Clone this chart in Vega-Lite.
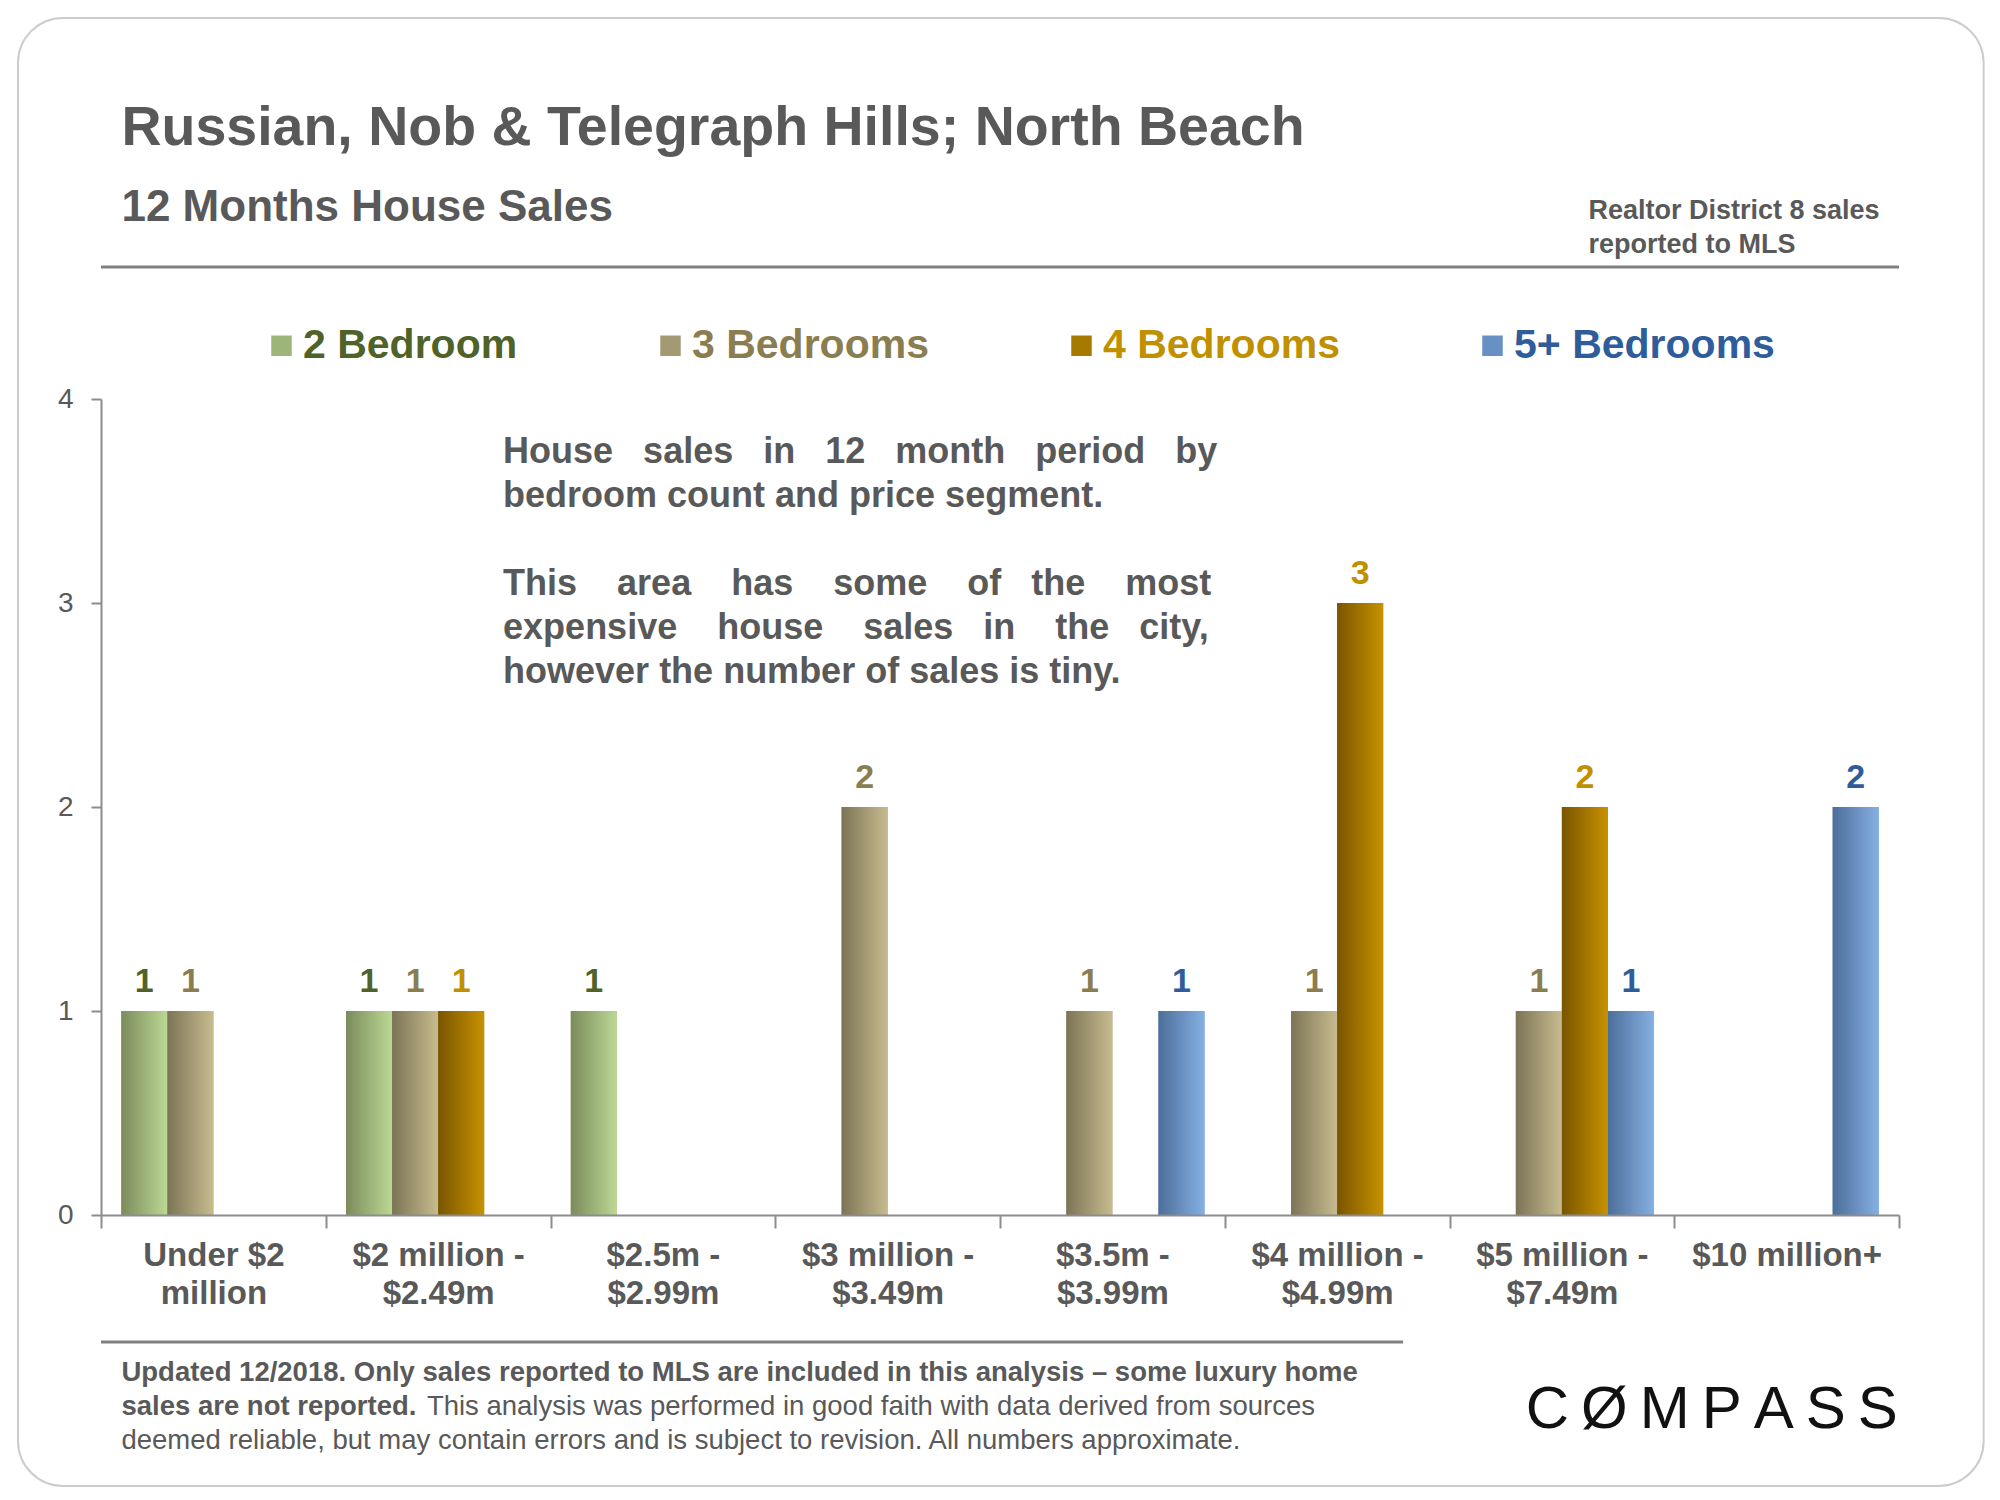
{
  "$schema": "https://vega.github.io/schema/vega-lite/v6.json",
  "width": 1798,
  "height": 816,
  "autosize": {"type": "none"},
  "padding": {"left": 101, "top": 399, "right": 101, "bottom": 285},
  "background": "white",
  "config": {"font": "Liberation Sans", "view": {"stroke": null}},
  "datasets": {
    "sales": [
      {"price": "Under $2 million", "bedrooms": "2 Bedroom", "count": 1},
      {"price": "Under $2 million", "bedrooms": "3 Bedrooms", "count": 1},
      {"price": "$2 million - $2.49m", "bedrooms": "2 Bedroom", "count": 1},
      {"price": "$2 million - $2.49m", "bedrooms": "3 Bedrooms", "count": 1},
      {"price": "$2 million - $2.49m", "bedrooms": "4 Bedrooms", "count": 1},
      {"price": "$2.5m - $2.99m", "bedrooms": "2 Bedroom", "count": 1},
      {"price": "$3 million - $3.49m", "bedrooms": "3 Bedrooms", "count": 2},
      {"price": "$3.5m - $3.99m", "bedrooms": "3 Bedrooms", "count": 1},
      {"price": "$3.5m - $3.99m", "bedrooms": "5+ Bedrooms", "count": 1},
      {"price": "$4 million - $4.99m", "bedrooms": "3 Bedrooms", "count": 1},
      {"price": "$4 million - $4.99m", "bedrooms": "4 Bedrooms", "count": 3},
      {"price": "$5 million - $7.49m", "bedrooms": "3 Bedrooms", "count": 1},
      {"price": "$5 million - $7.49m", "bedrooms": "4 Bedrooms", "count": 2},
      {"price": "$5 million - $7.49m", "bedrooms": "5+ Bedrooms", "count": 1},
      {"price": "$10 million+", "bedrooms": "5+ Bedrooms", "count": 2}
    ]
  },
  "layer": [
    {
      "data": {"values": [{}]},
      "mark": {"type": "rect", "filled": false, "stroke": "#cccccc", "strokeWidth": 2, "cornerRadius": 45, "xOffset": -83, "x2Offset": 197},
      "encoding": {
        "x": {"datum": "Under $2 million", "type": "nominal", "bandPosition": 0, "scale": {"domain": ["Under $2 million", "$2 million - $2.49m", "$2.5m - $2.99m", "$3 million - $3.49m", "$3.5m - $3.99m", "$4 million - $4.99m", "$5 million - $7.49m", "$10 million+"], "paddingInner": 0, "paddingOuter": 0}},
        "x2": {"datum": "$10 million+"},
        "y": {"datum": 5.868, "type": "quantitative", "scale": {"domain": [0, 4], "nice": false}},
        "y2": {"datum": -1.328}
      }
    },
    {
      "data": {"values": [{}]},
      "mark": {"type": "rule", "color": "#808080", "strokeWidth": 3},
      "encoding": {
        "y": {"datum": 4.647, "type": "quantitative", "scale": {"domain": [0, 4], "nice": false}}
      }
    },
    {
      "data": {"values": [{}]},
      "mark": {"type": "rule", "color": "#808080", "strokeWidth": 3, "x2Offset": 66},
      "encoding": {
        "x": {"datum": "Under $2 million", "type": "nominal", "bandPosition": 0},
        "x2": {"datum": "$4 million - $4.99m"},
        "y": {"datum": -0.6225, "type": "quantitative", "scale": {"domain": [0, 4], "nice": false}}
      }
    },
    {
      "data": {"values": [{}]},
      "mark": {"type": "text", "text": "Russian, Nob & Telegraph Hills; North Beach", "align": "left", "baseline": "alphabetic", "fontSize": 55.5, "fontWeight": "bold", "color": "#595959"},
      "encoding": {
        "x": {"datum": "Under $2 million", "type": "nominal", "bandPosition": 0.091},
        "y": {"datum": 5.245, "type": "quantitative", "scale": {"domain": [0, 4], "nice": false}}
      }
    },
    {
      "data": {"values": [{}]},
      "mark": {"type": "text", "text": "12 Months House Sales", "align": "left", "baseline": "alphabetic", "fontSize": 44, "fontWeight": "bold", "color": "#595959"},
      "encoding": {
        "x": {"datum": "Under $2 million", "type": "nominal", "bandPosition": 0.091},
        "y": {"datum": 4.873, "type": "quantitative", "scale": {"domain": [0, 4], "nice": false}}
      }
    },
    {
      "data": {"values": [{}]},
      "mark": {"type": "text", "text": ["Realtor District 8 sales", "reported to MLS"], "align": "left", "baseline": "alphabetic", "fontSize": 27, "lineHeight": 34, "fontWeight": "bold", "color": "#595959"},
      "encoding": {
        "x": {"datum": "$5 million - $7.49m", "type": "nominal", "bandPosition": 0.618},
        "y": {"datum": 4.882, "type": "quantitative", "scale": {"domain": [0, 4], "nice": false}}
      }
    },
    {
      "data": {"values": [{}]},
      "mark": {"type": "text", "text": ["House\u00a0\u00a0\u00a0sales\u00a0\u00a0\u00a0in\u00a0\u00a0\u00a012\u00a0\u00a0\u00a0month\u00a0\u00a0\u00a0period\u00a0\u00a0\u00a0by", "bedroom count and price segment."], "align": "left", "baseline": "alphabetic", "fontSize": 36, "lineHeight": 44, "fontWeight": "bold", "color": "#595959"},
      "encoding": {
        "x": {"datum": "$2 million - $2.49m", "type": "nominal", "bandPosition": 0.789},
        "y": {"datum": 3.686, "type": "quantitative", "scale": {"domain": [0, 4], "nice": false}}
      }
    },
    {
      "data": {"values": [{}]},
      "mark": {"type": "text", "text": ["This\u00a0\u00a0\u00a0\u00a0area\u00a0\u00a0\u00a0\u00a0has\u00a0\u00a0\u00a0\u00a0some\u00a0\u00a0\u00a0\u00a0of\u00a0\u00a0\u00a0the\u00a0\u00a0\u00a0\u00a0most", "expensive\u00a0\u00a0\u00a0\u00a0house\u00a0\u00a0\u00a0\u00a0sales\u00a0\u00a0\u00a0in\u00a0\u00a0\u00a0\u00a0the\u00a0\u00a0\u00a0city,", "however the number of sales is tiny."], "align": "left", "baseline": "alphabetic", "fontSize": 36, "lineHeight": 44, "fontWeight": "bold", "color": "#595959"},
      "encoding": {
        "x": {"datum": "$2 million - $2.49m", "type": "nominal", "bandPosition": 0.789},
        "y": {"datum": 3.039, "type": "quantitative", "scale": {"domain": [0, 4], "nice": false}}
      }
    },
    {
      "data": {"values": [{}]},
      "mark": {"type": "text", "text": "Updated 12/2018. Only sales reported to MLS are included in this analysis \u2013 some luxury home", "align": "left", "baseline": "alphabetic", "fontSize": 27.5, "fontWeight": "bold", "color": "#595959"},
      "encoding": {
        "x": {"datum": "Under $2 million", "type": "nominal", "bandPosition": 0.091},
        "y": {"datum": -0.815, "type": "quantitative", "scale": {"domain": [0, 4], "nice": false}}
      }
    },
    {
      "data": {"values": [{}]},
      "mark": {"type": "text", "text": "sales are not reported.", "align": "left", "baseline": "alphabetic", "fontSize": 27.5, "fontWeight": "bold", "color": "#595959"},
      "encoding": {
        "x": {"datum": "Under $2 million", "type": "nominal", "bandPosition": 0.091},
        "y": {"datum": -0.978, "type": "quantitative", "scale": {"domain": [0, 4], "nice": false}}
      }
    },
    {
      "data": {"values": [{}]},
      "mark": {"type": "text", "text": "This analysis was performed in good faith with data derived from sources", "align": "left", "baseline": "alphabetic", "fontSize": 27.5, "color": "#595959"},
      "encoding": {
        "x": {"datum": "$2 million - $2.49m", "type": "nominal", "bandPosition": 0.45},
        "y": {"datum": -0.978, "type": "quantitative", "scale": {"domain": [0, 4], "nice": false}}
      }
    },
    {
      "data": {"values": [{}]},
      "mark": {"type": "text", "text": "deemed reliable, but may contain errors and is subject to revision. All numbers approximate.", "align": "left", "baseline": "alphabetic", "fontSize": 27.5, "color": "#595959"},
      "encoding": {
        "x": {"datum": "Under $2 million", "type": "nominal", "bandPosition": 0.091},
        "y": {"datum": -1.145, "type": "quantitative", "scale": {"domain": [0, 4], "nice": false}}
      }
    },
    {
      "data": {"values": [{}]},
      "mark": {"type": "text", "text": "C\u2009\u00d8\u2009M\u2009P\u2009A\u2009S\u2009S", "align": "right", "baseline": "middle", "fontSize": 60, "color": "#111111"},
      "encoding": {
        "x": {"datum": "$10 million+", "type": "nominal", "bandPosition": 0.995},
        "y": {"datum": -0.955, "type": "quantitative", "scale": {"domain": [0, 4], "nice": false}}
      }
    },
    {
      "data": {"name": "sales"},
      "mark": {"type": "bar"},
      "encoding": {
        "x": {
          "field": "price", "type": "nominal",
          "scale": {"domain": ["Under $2 million", "$2 million - $2.49m", "$2.5m - $2.99m", "$3 million - $3.49m", "$3.5m - $3.99m", "$4 million - $4.99m", "$5 million - $7.49m", "$10 million+"], "paddingInner": 0, "paddingOuter": 0},
          "axis": {
            "title": null, "labelAngle": 0, "labelAlign": "center", "labelLimit": 0, "labelFontSize": 33, "labelFontWeight": "bold", "labelColor": "#595959", "labelLineHeight": 38,
            "tickBand": "extent", "tickSize": 13, "tickColor": "#8c8c8c", "tickWidth": 2, "labelPadding": 27,
            "domainColor": "#8c8c8c", "domainWidth": 2,
            "labelExpr": "indexof(datum.label, ' - ') > 0 ? [split(datum.label, ' - ')[0] + ' -', split(datum.label, ' - ')[1]] : datum.label === 'Under $2 million' ? ['Under $2', 'million'] : datum.label"
          }
        },
        "xOffset": {"field": "bedrooms", "type": "nominal", "scale": {"domain": ["2 Bedroom", "3 Bedrooms", "4 Bedrooms", "5+ Bedrooms"], "paddingInner": 0, "paddingOuter": 0.44}},
        "y": {
          "field": "count", "type": "quantitative",
          "scale": {"domain": [0, 4], "nice": false},
          "axis": {"title": null, "values": [0, 1, 2, 3, 4], "format": "d", "grid": false, "labelFontSize": 28, "labelColor": "#595959", "labelPadding": 18, "tickSize": 10, "tickColor": "#8c8c8c", "tickWidth": 2, "domainColor": "#8c8c8c", "domainWidth": 2}
        },
        "fill": {
          "field": "bedrooms", "type": "nominal",
          "scale": {
            "domain": ["2 Bedroom", "3 Bedrooms", "4 Bedrooms", "5+ Bedrooms"],
            "range": ["#9db578", "#a39a74", "#a67a00", "#6990c4"]
          },
          "legend": {
            "title": null, "orient": "none", "legendX": 160, "legendY": -74, "direction": "horizontal",
            "symbolType": "square", "symbolSize": 420, "symbolStrokeWidth": 0, "symbolOpacity": 1,
            "labelFontSize": 41, "labelFontWeight": "bold", "labelOffset": 1, "columnPadding": 132, "labelLimit": 0,
            "labelColor": {"expr": "datum.value === '2 Bedroom' ? '#4f6228' : datum.value === '3 Bedrooms' ? '#8a7d4f' : datum.value === '4 Bedrooms' ? '#c09000' : '#2f5d9b'"}
          }
        }
      }
    },
    {
      "data": {"name": "sales"},
      "transform": [{"filter": "datum.bedrooms === '2 Bedroom'"}],
      "mark": {"type": "bar", "color": {"gradient": "linear", "x1": 0, "y1": 0, "x2": 1, "y2": 0, "stops": [{"offset": 0, "color": "#7b8b5c"}, {"offset": 1, "color": "#bcd894"}]}},
      "encoding": {
        "x": {"field": "price", "type": "nominal"},
        "xOffset": {"field": "bedrooms", "type": "nominal"},
        "y": {"field": "count", "type": "quantitative", "scale": {"domain": [0, 4], "nice": false}}
      }
    },
    {
      "data": {"name": "sales"},
      "transform": [{"filter": "datum.bedrooms === '3 Bedrooms'"}],
      "mark": {"type": "bar", "color": {"gradient": "linear", "x1": 0, "y1": 0, "x2": 1, "y2": 0, "stops": [{"offset": 0, "color": "#7c7455"}, {"offset": 1, "color": "#c7bb8f"}]}},
      "encoding": {
        "x": {"field": "price", "type": "nominal"},
        "xOffset": {"field": "bedrooms", "type": "nominal"},
        "y": {"field": "count", "type": "quantitative", "scale": {"domain": [0, 4], "nice": false}}
      }
    },
    {
      "data": {"name": "sales"},
      "transform": [{"filter": "datum.bedrooms === '4 Bedrooms'"}],
      "mark": {"type": "bar", "color": {"gradient": "linear", "x1": 0, "y1": 0, "x2": 1, "y2": 0, "stops": [{"offset": 0, "color": "#7a5500"}, {"offset": 1, "color": "#c79200"}]}},
      "encoding": {
        "x": {"field": "price", "type": "nominal"},
        "xOffset": {"field": "bedrooms", "type": "nominal"},
        "y": {"field": "count", "type": "quantitative", "scale": {"domain": [0, 4], "nice": false}}
      }
    },
    {
      "data": {"name": "sales"},
      "transform": [{"filter": "datum.bedrooms === '5+ Bedrooms'"}],
      "mark": {"type": "bar", "color": {"gradient": "linear", "x1": 0, "y1": 0, "x2": 1, "y2": 0, "stops": [{"offset": 0, "color": "#4d6e99"}, {"offset": 1, "color": "#85b0e3"}]}},
      "encoding": {
        "x": {"field": "price", "type": "nominal"},
        "xOffset": {"field": "bedrooms", "type": "nominal"},
        "y": {"field": "count", "type": "quantitative", "scale": {"domain": [0, 4], "nice": false}}
      }
    },
    {
      "data": {"name": "sales"},
      "mark": {"type": "text", "baseline": "alphabetic", "dy": -19, "fontSize": 34, "fontWeight": "bold"},
      "encoding": {
        "x": {"field": "price", "type": "nominal"},
        "xOffset": {"field": "bedrooms", "type": "nominal"},
        "y": {"field": "count", "type": "quantitative", "scale": {"domain": [0, 4], "nice": false}},
        "text": {"field": "count", "type": "quantitative"},
        "color": {
          "field": "bedrooms", "type": "nominal", "legend": null,
          "scale": {"domain": ["2 Bedroom", "3 Bedrooms", "4 Bedrooms", "5+ Bedrooms"], "range": ["#4f6228", "#8a7d4f", "#c09000", "#2f5d9b"]}
        }
      }
    }
  ]
}
